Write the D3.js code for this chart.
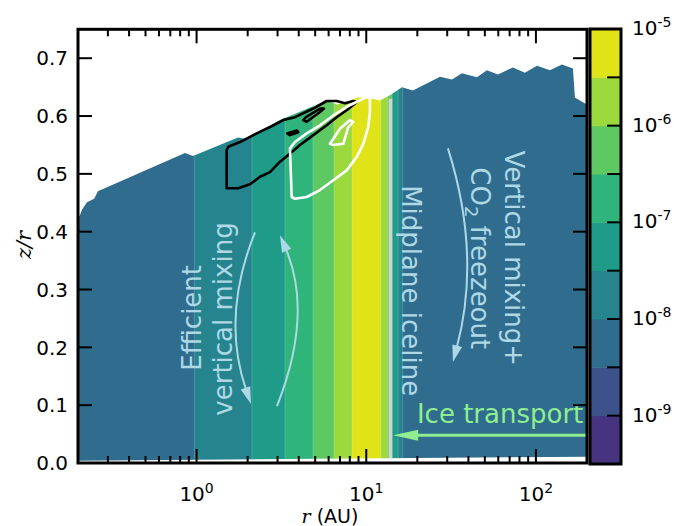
<!DOCTYPE html>
<html><head><meta charset="utf-8">
<script src="https://cdn.jsdelivr.net/npm/d3@7"></script>
<style>body{margin:0;background:#fff;} svg{display:block;font-family:"DejaVu Sans",sans-serif;}</style>
</head><body><svg id="c" width="678" height="526"></svg>
<script>
// ---------- data ----------
const rDomain = [0.2, 200];
const zDomain = [0, 0.75];
const xMajorTicks = [1, 10, 100];
const xMajorExps = ["0", "1", "2"];
const yTicks = [0, 0.1, 0.2, 0.3, 0.4, 0.5, 0.6, 0.7];
const levelExps = [-9.5, -9, -8.5, -8, -7.5, -7, -6.5, -6, -5.5, -5];
const cbarLabelExps = [-9, -8, -7, -6, -5];

// radial bands of log10 abundance
const bandEdgesAU = [0.2, 0.97, 2.12, 3.32, 4.85, 6.45, 8.24, 12.2, 13.4, 14.2, 15.4, 16.4, 200];
const bandLogAbund = [-8.2, -7.7, -7.2, -6.8, -6.2, -5.7, -5.2, -5.7, -6.2, -7.2, -7.7, -8.2];

// disk surface (top boundary) and floor
const surfR = [0.2, 0.2056, 0.211, 0.226, 0.249, 0.262, 0.854, 0.952, 1.754, 2.009, 3.101, 5.866, 6.721, 7.697, 8.935, 10.10, 12.04, 13.79, 16.23, 18.84, 27.19, 31.99, 36.64, 44.91, 51.43, 59.70, 73.16, 86.12, 101.4, 120.9, 142.3, 165.2, 169.8, 189.2, 200];
const surfZ = [0.424, 0.429, 0.438, 0.451, 0.457, 0.470, 0.536, 0.531, 0.563, 0.560, 0.593, 0.627, 0.620, 0.624, 0.632, 0.632, 0.627, 0.636, 0.650, 0.644, 0.668, 0.663, 0.674, 0.667, 0.679, 0.672, 0.684, 0.675, 0.687, 0.679, 0.689, 0.682, 0.632, 0.624, 0.620];
const floorR = [0.2, 200];
const floorZ = [0.004, 0.011];

// contour lines [r (AU), z/r]
const blackOuter = [[1.504,0.541],[1.504,0.475],[1.761,0.475],[2.064,0.482],[2.364,0.495],[2.707,0.503],[3.101,0.521],[3.551,0.535],[4.068,0.550],[4.872,0.567],[5.843,0.584],[6.693,0.598],[7.665,0.610],[8.778,0.624],[8.383,0.626],[7.490,0.622],[6.693,0.626],[5.843,0.626],[4.872,0.613],[3.800,0.598],[3.243,0.593],[2.707,0.581],[2.261,0.570],[1.802,0.555],[1.537,0.547]];
const blackInnerA = [[4.254,0.593],[4.455,0.590],[5.336,0.607],[5.633,0.613],[5.336,0.613],[4.413,0.598]];
const blackInnerB = [[3.423,0.570],[3.551,0.567],[3.975,0.572],[3.890,0.575]];
const whiteOuter = [[3.551,0.544],[3.634,0.460],[3.800,0.457],[4.455,0.460],[5.336,0.472],[6.391,0.489],[7.665,0.506],[8.778,0.529],[9.601,0.552],[10.27,0.581],[10.51,0.607],[10.51,0.630],[10.06,0.633],[9.182,0.627],[7.665,0.616],[6.391,0.601],[5.336,0.584],[4.455,0.570],[3.800,0.555]];
const whiteInner = [[6.111,0.552],[6.391,0.550],[7.320,0.552],[7.833,0.581],[8.383,0.590],[8.017,0.593],[6.998,0.578]];

const icelineR = 13.9, icelineTop = 0.630;

// annotation anchors [r, z/r]
const mixArrowDown = [[2.209,0.399],[1.730,0.252],[2.092,0.102]];
const mixArrowUp = [[2.977,0.0985],[3.852,0.252],[3.101,0.394]];
const co2Arrow = [[30.3,0.544],[38.7,0.3596],[32.4,0.1745]];
const iceArrow = [[200,0.048],[14.4,0.048]];

// ---------- layout ----------
const svg = d3.select("#c");
const L = 78, R = 587, T = 29.3, B = 463;
const x = d3.scaleLog().domain(rDomain).range([L, R]);
const y = d3.scaleLinear().domain(zDomain).range([B, T]);
const cbL = 590, cbR = 621, cbT = 29, cbB = 464;
const cbY = d3.scaleLinear().domain([levelExps[0], levelExps[levelExps.length-1]]).range([cbB, cbT]);
const colorOf = v => {
  let i = d3.bisectRight(levelExps, v) - 1;
  i = Math.max(0, Math.min(levelExps.length - 2, i));
  return d3.interpolateViridis((i + 1.5) / 10);
};

// clip to disk
const diskPts = surfR.map((r,i)=>[x(r), y(surfZ[i])])
  .concat(floorR.map((r,i)=>[x(r), y(floorZ[i])]).reverse());
svg.append("clipPath").attr("id","disk").append("path")
  .attr("d", d3.line().curve(d3.curveLinearClosed)(diskPts));

const gDisk = svg.append("g").attr("clip-path","url(#disk)");
bandLogAbund.forEach((v,i)=>{
  gDisk.append("rect")
    .attr("x", x(bandEdgesAU[i])).attr("y", T)
    .attr("width", x(bandEdgesAU[i+1]) - x(bandEdgesAU[i]) + 0.6)
    .attr("height", B - T)
    .attr("fill", colorOf(v));
});
// faint seams
bandEdgesAU.slice(1,-1).forEach(e=>{
  gDisk.append("line").attr("x1",x(e)).attr("x2",x(e)).attr("y1",T).attr("y2",B)
    .attr("stroke","#ffffff").attr("stroke-opacity",0.22).attr("stroke-width",0.8);
});

// iceline
svg.append("line").attr("x1",x(icelineR)).attr("x2",x(icelineR))
  .attr("y1", y(floorZ[0] + (floorZ[1]-floorZ[0]) * (Math.log10(icelineR)-Math.log10(0.2))/3))
  .attr("y2", y(icelineTop))
  .attr("stroke","#d3d3d3").attr("stroke-width",3.5);

// contours
const cline = d3.line().x(d=>x(d[0])).y(d=>y(d[1])).curve(d3.curveLinearClosed);
[[blackOuter,"#000"],[blackInnerA,"#000"],[blackInnerB,"#000"],[whiteOuter,"#fff"],[whiteInner,"#fff"]]
  .forEach(([pts,c])=>{
    svg.append("path").attr("d", cline(pts)).attr("fill","none")
      .attr("stroke",c).attr("stroke-width",2.6).attr("stroke-linejoin","round");
  });

// curved arrows
function curvedArrow(pts, color, width){
  const p0=[x(pts[0][0]),y(pts[0][1])], pm=[x(pts[1][0]),y(pts[1][1])], p2=[x(pts[2][0]),y(pts[2][1])];
  const c=[2*pm[0]-(p0[0]+p2[0])/2, 2*pm[1]-(p0[1]+p2[1])/2];
  let dx=p2[0]-c[0], dy=p2[1]-c[1]; const len=Math.hypot(dx,dy); dx/=len; dy/=len;
  const hl=17, hw=5;
  const base=[p2[0]-dx*hl, p2[1]-dy*hl];
  const pathEnd=[p2[0]-dx*(hl-2), p2[1]-dy*(hl-2)];
  svg.append("path").attr("d",`M${p0[0]},${p0[1]}Q${c[0]},${c[1]} ${pathEnd[0]},${pathEnd[1]}`)
    .attr("fill","none").attr("stroke",color).attr("stroke-width",width);
  svg.append("path").attr("d",`M${p2[0]},${p2[1]}L${base[0]-dy*hw},${base[1]+dx*hw}L${base[0]+dy*hw},${base[1]-dx*hw}Z`)
    .attr("fill",color);
}
curvedArrow(mixArrowDown, "#add8e6", 2);
curvedArrow(mixArrowUp, "#add8e6", 2);
curvedArrow(co2Arrow, "#add8e6", 2);

// ice transport arrow
{
  const a=[x(iceArrow[0][0]), y(iceArrow[0][1])], b=[x(iceArrow[1][0]), y(iceArrow[1][1])];
  const hl=25, hw=5.5;
  svg.append("line").attr("x1",a[0]).attr("y1",a[1]).attr("x2",b[0]+hl-2).attr("y2",b[1])
    .attr("stroke","#90ee90").attr("stroke-width",3);
  svg.append("path").attr("d",`M${b[0]},${b[1]}L${b[0]+hl},${b[1]-hw}L${b[0]+hl},${b[1]+hw}Z`).attr("fill","#90ee90");
}

// annotation texts
function rotText(r,z,rot,txt,anchor){
  return svg.append("text").attr("transform",`translate(${x(r)},${y(z)}) rotate(${rot})`)
    .attr("text-anchor",anchor).attr("font-size",26).attr("fill","#add8e6").text(txt);
}
rotText(1.06,0.251,-90,"Efficient","middle");
rotText(1.617,0.249,-90,"vertical mixing","middle");
rotText(16.23,0.298,90,"Midplane iceline","middle");
rotText(65.7,0.354,90,"Vertical mixing+","middle");
{
  const t = svg.append("text").attr("transform",`translate(${x(41.4)},${y(0.354)}) rotate(90)`)
    .attr("text-anchor","middle").attr("font-size",26).attr("fill","#add8e6");
  t.append("tspan").text("CO");
  t.append("tspan").attr("dy",6).attr("font-size",18).text("2");
  t.append("tspan").attr("dy",-6).text(" freezeout");
}
svg.append("text").attr("x",x(19.9)).attr("y",y(0.069)).attr("font-size",26)
  .attr("fill","#90ee90").text("Ice transport");

// ---------- axes frame ----------
const gAx = svg.append("g");
const minor=[];
[0.1,1,10,100].forEach(d=>{for(let k=2;k<=9;k++){const v=d*k; if(v>rDomain[0]*0.999 && v<rDomain[1]*1.001) minor.push(v);}});
minor.forEach(v=>{
  gAx.append("line").attr("x1",x(v)).attr("x2",x(v)).attr("y1",B).attr("y2",B-7).attr("stroke","#000").attr("stroke-width",2);
  gAx.append("line").attr("x1",x(v)).attr("x2",x(v)).attr("y1",T).attr("y2",T+7).attr("stroke","#000").attr("stroke-width",2);
});
xMajorTicks.forEach((v,i)=>{
  gAx.append("line").attr("x1",x(v)).attr("x2",x(v)).attr("y1",B).attr("y2",B-14).attr("stroke","#000").attr("stroke-width",2);
  gAx.append("line").attr("x1",x(v)).attr("x2",x(v)).attr("y1",T).attr("y2",T+14).attr("stroke","#000").attr("stroke-width",2);
  const t=gAx.append("text").attr("x",x(v)).attr("y",501).attr("text-anchor","middle").attr("font-size",20).attr("fill","#000");
  t.append("tspan").text("10");
  t.append("tspan").attr("dy",-8).attr("font-size",14).text(xMajorExps[i]);
});
yTicks.forEach(v=>{
  gAx.append("line").attr("x1",L).attr("x2",L+14).attr("y1",y(v)).attr("y2",y(v)).attr("stroke","#000").attr("stroke-width",2);
  gAx.append("line").attr("x1",R).attr("x2",R-14).attr("y1",y(v)).attr("y2",y(v)).attr("stroke","#000").attr("stroke-width",2);
  gAx.append("text").attr("x",68).attr("y",y(v)).attr("dy","0.36em").attr("text-anchor","end")
    .attr("font-size",20).attr("fill","#000").text(v.toFixed(1));
});
gAx.append("rect").attr("x",L).attr("y",T).attr("width",R-L).attr("height",B-T)
  .attr("fill","none").attr("stroke","#000").attr("stroke-width",3);

// axis labels
{
  const t=svg.append("text").attr("x",330).attr("y",523).attr("text-anchor","middle").attr("font-size",19).attr("fill","#000");
  t.append("tspan").attr("font-family","DejaVu Serif").attr("font-style","italic").text("r");
  t.append("tspan").text(" (AU)");
  svg.append("text").attr("transform","translate(31,245) rotate(-90)").attr("text-anchor","middle")
    .attr("font-family","DejaVu Serif").attr("font-style","italic").attr("font-size",21).attr("fill","#000").text("z/r");
}

// ---------- colorbar ----------
const gCb = svg.append("g");
for(let i=0;i<levelExps.length-1;i++){
  gCb.append("rect").attr("x",cbL).attr("width",cbR-cbL)
    .attr("y",cbY(levelExps[i+1])).attr("height",cbY(levelExps[i])-cbY(levelExps[i+1])+0.5)
    .attr("fill",colorOf((levelExps[i]+levelExps[i+1])/2));
}
levelExps.slice(1,-1).forEach(v=>{
  gCb.append("line").attr("x1",cbR).attr("x2",cbR-14).attr("y1",cbY(v)).attr("y2",cbY(v)).attr("stroke","#000").attr("stroke-width",2);
});
gCb.append("rect").attr("x",cbL).attr("y",cbT).attr("width",cbR-cbL).attr("height",cbB-cbT)
  .attr("fill","none").attr("stroke","#000").attr("stroke-width",3);
cbarLabelExps.forEach(e=>{
  const t=gCb.append("text").attr("x",632).attr("y",cbY(e)+6).attr("font-size",20).attr("fill","#000");
  t.append("tspan").text("10");
  t.append("tspan").attr("dy",-8).attr("font-size",14).text(String(e));
});
</script></body></html>
